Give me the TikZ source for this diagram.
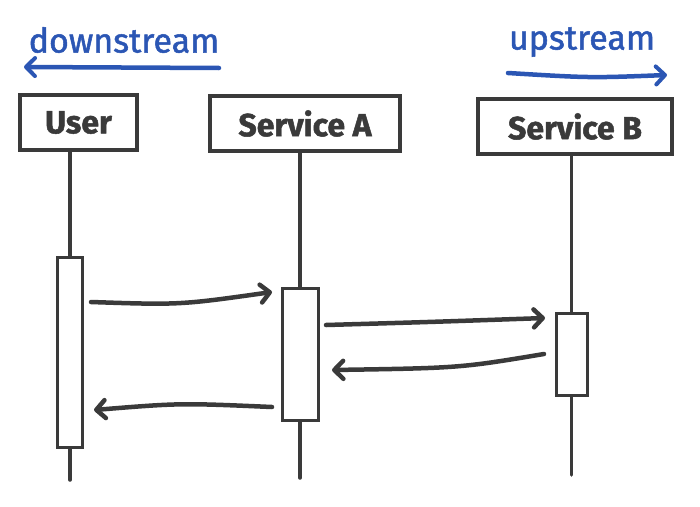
\documentclass[tikz,border=0pt]{standalone}
\usepackage{fontspec}
\setmainfont{Fira Sans}[FakeBold=1.5]
\usetikzlibrary{arrows.meta}
\definecolor{ink}{HTML}{3A3A3A}
\definecolor{pen}{HTML}{2B56B4}
\begin{document}
\begin{tikzpicture}[x=1pt,y=-1pt,
  head/.style={draw=ink,line width=3.2pt,fill=white,minimum height=55pt,inner sep=0pt,font=\fontsize{32}{34}\selectfont\bfseries,text=ink},
  bar/.style={draw=ink,line width=3pt,fill=white,inner sep=0pt},
  life/.style={draw=ink,line width=3.5pt,line cap=round},
  msg/.style={draw=ink,line width=4.5pt,line cap=round,-{Straight Barb[length=9pt,width=18pt,line width=4.5pt,round]}},
  dir/.style={draw=pen,line width=4.5pt,line cap=round,-{Straight Barb[length=9pt,width=18pt,line width=4pt,round]}},
  lbl/.style={text=pen,font=\fontsize{34}{36}\selectfont}]
\useasboundingbox (0,0) rectangle (700,506);
% heads
\node[head,minimum width=117pt] (user) at (78.5,122.5) {User};
\node[head,minimum width=190pt] (sa) at (305,123.5) {Service A};
\node[head,minimum width=194pt] (sb) at (575,126.5) {Service B};
% activation bars
\node[bar,minimum width=25pt,minimum height=190pt] (ua) at (70,352) {};
\node[bar,minimum width=36pt,minimum height=132pt] (aa) at (300,354) {};
\node[bar,minimum width=31pt,minimum height=82pt] (ba) at (571.5,354) {};
% lifelines
\coordinate (uend) at (70,480);
\coordinate (aend) at (300,478);
\coordinate (bend) at (571.5,475);
\draw[life] (ua.north |- user.south) -- (ua.north);
\draw[life] (ua.south) -- (uend);
\draw[life] (aa.north |- sa.south) -- (aa.north);
\draw[life] (aa.south) -- (aend);
\draw[life] (ba.north |- sb.south) -- (ba.north);
\draw[life] (ba.south) -- (bend);
% messages
\coordinate (m1s) at (91,302); \coordinate (m1e) at (272,292);
\coordinate (m2s) at (326,325); \coordinate (m2e) at (545,318);
\coordinate (m3s) at (544,354); \coordinate (m3e) at (332,370);
\coordinate (m4s) at (272,407); \coordinate (m4e) at (94,410);
\draw[msg] (m1s) .. controls (180,305) .. (m1e);
\draw[msg] (m2s) .. controls (430,322) .. (m2e);
\draw[msg] (m3s) .. controls (460,368) .. (m3e);
\draw[msg] (m4s) .. controls (180,403) .. (m4e);
% direction labels
\node[lbl] (down) at (124,40) {downstream};
\node[lbl] (up) at (582,42) {upstream};
\coordinate (d1) at (219,68); \coordinate (d2) at (24,67);
\coordinate (u1) at (508,73); \coordinate (u2) at (667,75);
\draw[dir] (d1) -- (d2);
\draw[dir] (u1) .. controls (590,78) .. (u2);
\end{tikzpicture}
\end{document}
